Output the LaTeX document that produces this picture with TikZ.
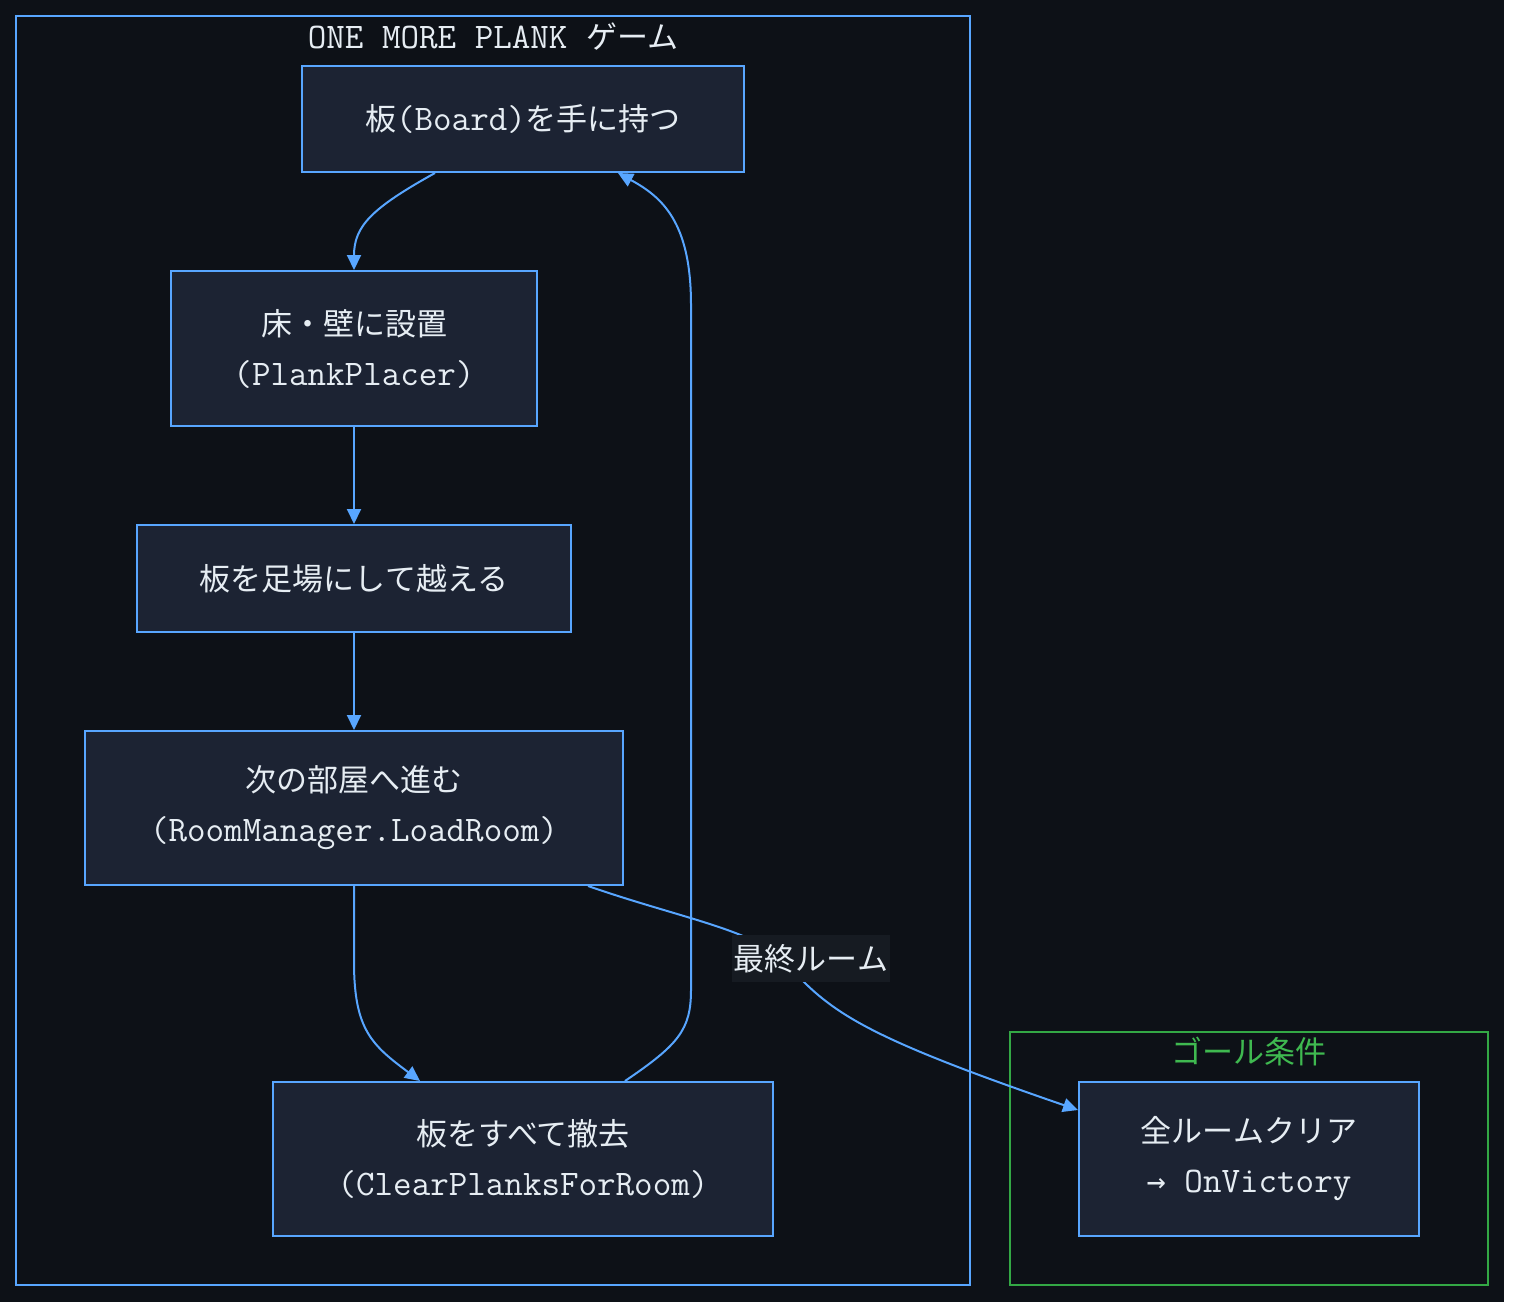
\documentclass[tikz,border=0pt]{standalone}
\usepackage{fontspec}
\setmainfont{Noto Sans CJK JP}
\newfontfamily\arrowfont{DejaVu Sans Mono}
\usetikzlibrary{arrows.meta}
\definecolor{bgc}{HTML}{0D1117}
\definecolor{nodefill}{HTML}{1C2333}
\definecolor{edgeblue}{HTML}{58A6FF}
\definecolor{txt}{HTML}{E6EDF3}
\definecolor{lblbg}{HTML}{161B22}
\definecolor{grnline}{HTML}{33A845}
\definecolor{grntxt}{HTML}{3FB950}
\newcommand\mono[1]{{\fontsize{36pt}{50pt}\selectfont\ttfamily #1}}
\pgfdeclarelayer{back}
\pgfdeclarelayer{edgelayer}
\pgfsetlayers{back,edgelayer,main}
\begin{document}
\begin{tikzpicture}[x=1pt,y=-1pt,
  box/.style={draw=edgeblue, line width=2pt, fill=nodefill, text=txt, align=center,
    inner sep=0pt, font=\fontsize{31pt}{50pt}\selectfont},
  edge/.style={draw=edgeblue, line width=2pt, -{Triangle[length=15pt,width=14pt]}},
  cluster/.style={line width=2pt},
  ctitle/.style={inner sep=0pt, font=\fontsize{31pt}{40pt}\selectfont}
]
\useasboundingbox (0,0) rectangle (1520,1314);
\begin{pgfonlayer}{back}
\fill[white] (0,0) rectangle (1520,1314);
\fill[bgc] (0,0) rectangle (1504,1302);
\draw[cluster, draw=edgeblue] (16,16) rectangle (970,1285);
\draw[cluster, draw=grnline] (1010,1032) rectangle (1488,1285);
\end{pgfonlayer}

\node[ctitle, text=txt] (T1) at (493,37) {\mono{ONE MORE PLANK\ }ゲーム};
\node[ctitle, text=grntxt] (T2) at (1249,1051) {ゴール条件};

\node[box, minimum width=442pt, minimum height=106pt] (A) at (523,119) {板\mono{(Board)}を手に持つ};
\node[box, minimum width=366pt, minimum height=155pt] (B) at (354,348.5) {床・壁に設置\\\mono{(PlankPlacer)}};
\node[box, minimum width=434pt, minimum height=107pt] (C) at (354,578.5) {板を足場にして越える};
\node[box, minimum width=538pt, minimum height=154pt] (D) at (354,808) {次の部屋へ進む\\\mono{(RoomManager.LoadRoom)}};
\node[box, minimum width=500pt, minimum height=154pt] (E) at (523,1159) {板をすべて撤去\\\mono{(ClearPlanksForRoom)}};
\node[box, minimum width=340pt, minimum height=154pt] (F) at (1249,1159) {全ルームクリア\\\mono{{\arrowfont\fontsize{32pt}{50pt}\selectfont →}\ OnVictory}};
\node[fill=lblbg, text=txt, inner sep=0pt, minimum width=158pt, minimum height=47pt,
  font=\fontsize{31pt}{40pt}\selectfont] (L) at (811,958.5) {最終ルーム};

\begin{pgfonlayer}{edgelayer}
\draw[edge] ([xshift=-88pt]A.south) .. controls (372,208) and (354,226) .. (B.north);
\draw[edge] (B.south) -- (C.north);
\draw[edge] (C.south) -- (D.north);
\draw[edge] (D.south) -- (354,962) .. controls (354,1030) and (372,1045) .. ([xshift=-103pt]E.north);
\draw[edge] ([xshift=102pt]E.north) .. controls (678,1045) and (691,1030) .. (691,990)
  -- (691,305) .. controls (691,222) and (662,197) .. ([xshift=95pt]A.south);
\draw[edge] ([xshift=234pt]D.south) .. controls (680,918) and (755,930) .. (785,962)
  .. controls (830,1012) and (860,1035) .. ([yshift=49pt]F.west);
\end{pgfonlayer}
\end{tikzpicture}
\end{document}
